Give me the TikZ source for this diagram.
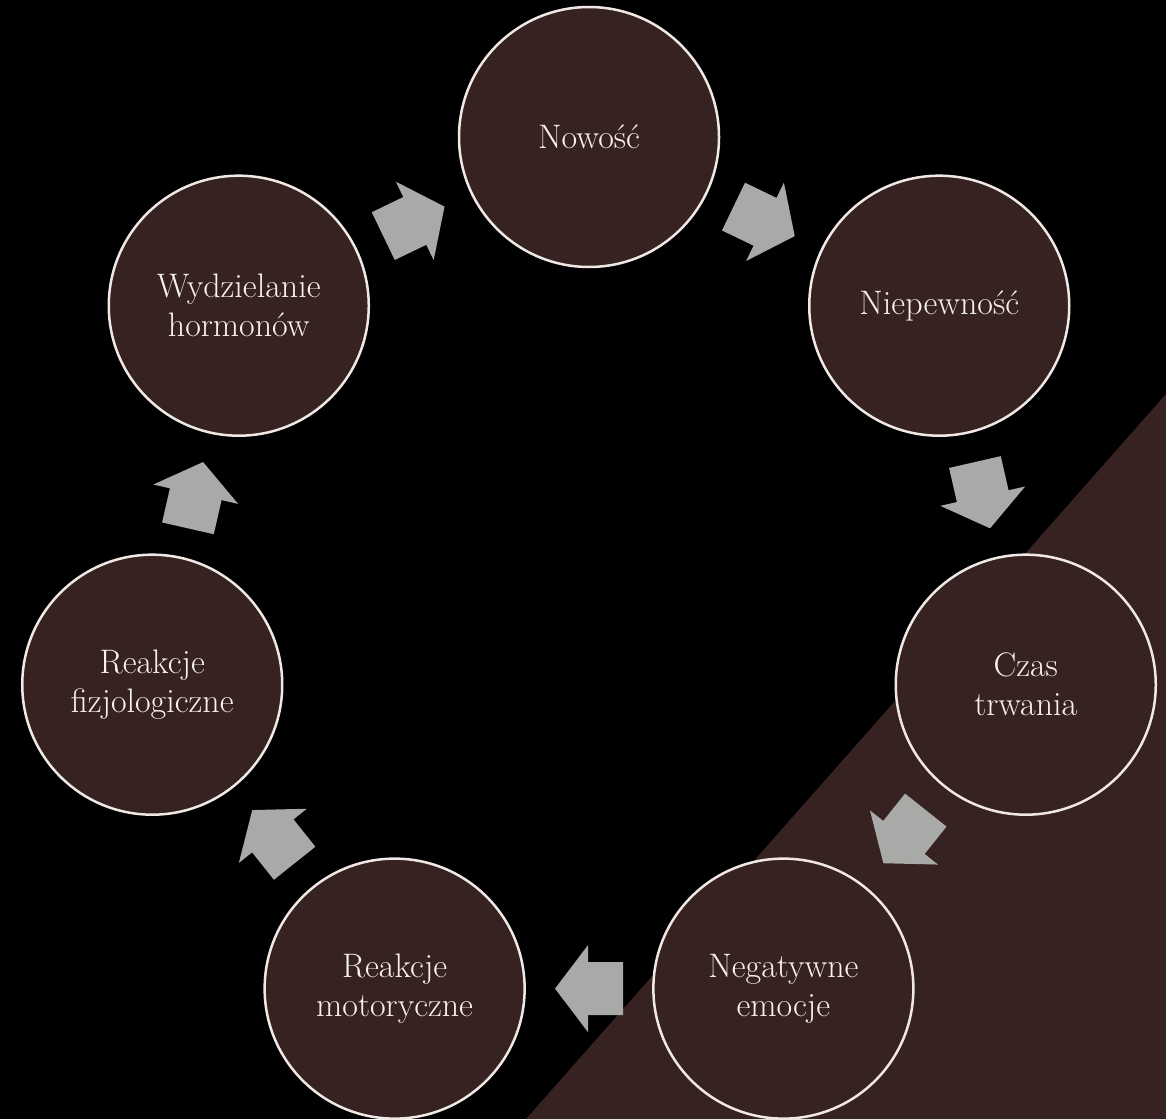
\documentclass[tikz,border=0pt]{standalone}
\usepackage{fontspec}
\usetikzlibrary{calc}
\definecolor{bgbrown}{HTML}{362220}
\definecolor{ringcol}{HTML}{F0E8E4}
\definecolor{arrowgray}{HTML}{A9A9A7}
\definecolor{txtcol}{HTML}{F6F2F0}
% block arrow placed midway between two named nodes, rotated by #3
\newcommand\cyclearrow[3]{%
  \begin{scope}[shift={($(#1)!0.5!(#2)$)}, rotate=#3]
    \fill[blockarrow] (-34,26.5) -- (1,26.5) -- (1,43.5) -- (34,0)
      -- (1,-43.5) -- (1,-26.5) -- (-34,-26.5) -- cycle;
  \end{scope}}
\begin{document}
\begin{tikzpicture}[x=1pt,y=1pt,
  cyclenode/.style={circle, minimum size=260pt, inner sep=0pt,
    fill=bgbrown, draw=ringcol, line width=2.5pt, text=txtcol,
    align=center, font=\fontsize{34}{39}\selectfont},
  blockarrow/.style={fill=arrowgray}]
\useasboundingbox (0,0) rectangle (1166,-1119);
\fill[black] (0,0) rectangle (1166,-1119);
\fill[bgbrown] (1166,-394) -- (1166,-1119) -- (526,-1119) -- cycle;
\coordinate (C) at (589,-585);
\node[cyclenode] (n0) at ([shift={(90:448)}]C) {Nowość};
\node[cyclenode] (n1) at ([shift={(38.571:448)}]C) {Niepewność};
\node[cyclenode] (n2) at ([shift={(-12.857:448)}]C) {Czas\\trwania};
\node[cyclenode] (n3) at ([shift={(-64.286:448)}]C) {Negatywne\\emocje};
\node[cyclenode] (n4) at ([shift={(-115.714:448)}]C) {Reakcje\\motoryczne};
\node[cyclenode] (n5) at ([shift={(-167.143:448)}]C) {Reakcje\\fizjologiczne};
\node[cyclenode] (n6) at ([shift={(-218.571:448)}]C) {Wydzielanie\\hormonów};
\cyclearrow{n0}{n1}{-25.714}
\cyclearrow{n1}{n2}{-77.143}
\cyclearrow{n2}{n3}{-128.571}
\cyclearrow{n3}{n4}{-180}
\cyclearrow{n4}{n5}{-231.429}
\cyclearrow{n5}{n6}{-282.857}
\cyclearrow{n6}{n0}{-334.286}
\end{tikzpicture}
\end{document}
